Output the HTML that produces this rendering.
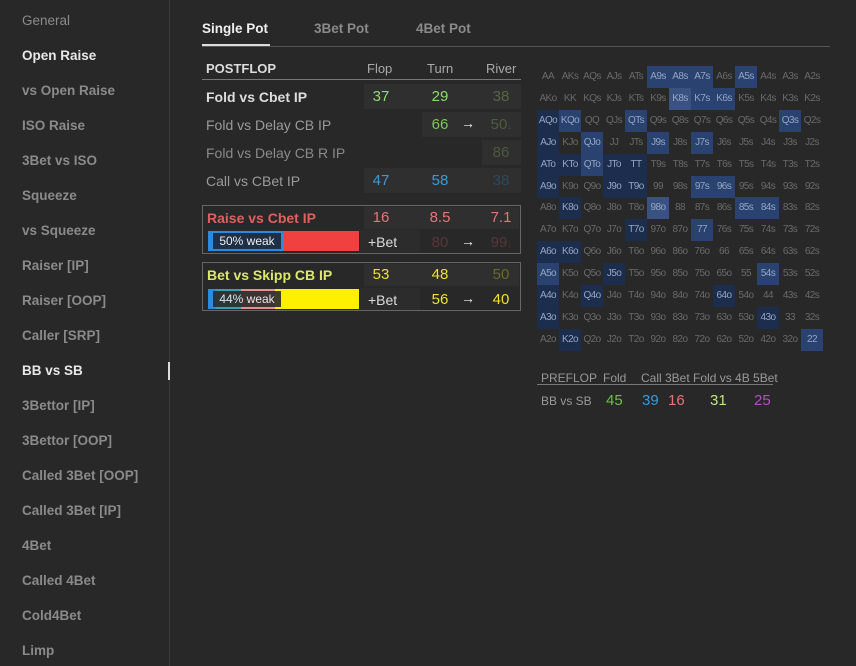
<!DOCTYPE html>
<html><head><meta charset="utf-8"><style>
*{box-sizing:border-box;margin:0;padding:0}
body{width:856px;height:666px;background:#282828;font-family:"Liberation Sans",sans-serif;position:relative;overflow:hidden;color:#ccc}
.a{position:absolute;white-space:nowrap}
.side{position:absolute;left:0;top:0;width:170px;height:666px;border-right:1px solid #3c3c3c}
.si{position:absolute;left:22px;font-size:13.5px;color:#8a8a8a;font-weight:bold}
.cell{position:absolute;background:#2f2f2f}
.num{position:absolute;font-size:15px;text-align:center;width:50px;white-space:nowrap}
.hc{position:absolute;width:22px;height:22px;font-size:10px;color:#6a6a6a;text-align:center;line-height:22px;letter-spacing:-0.6px;overflow:hidden}
</style></head><body>
<div class="side" id="side"></div>
<div class="a" style="left:168px;top:362px;width:2px;height:18px;background:#ddd"></div>

<div class="a" style="left:202px;top:21px;font-size:13.5px;font-weight:bold;color:#eee">Single Pot</div>
<div class="a" style="left:314px;top:21px;font-size:13.5px;color:#8a8a8a;font-weight:bold">3Bet Pot</div>
<div class="a" style="left:416px;top:21px;font-size:13.5px;color:#8a8a8a;font-weight:bold">4Bet Pot</div>
<div class="a" style="left:202px;top:46px;width:628px;height:1px;background:#555"></div>
<div class="a" style="left:202px;top:44px;width:68px;height:2px;background:#ddd"></div>

<div class="a" style="left:206px;top:61px;font-size:13px;font-weight:bold;color:#ddd">POSTFLOP</div>
<div class="a" style="left:367px;top:61px;font-size:13px;color:#aaa">Flop</div>
<div class="a" style="left:427px;top:61px;font-size:13px;color:#aaa">Turn</div>
<div class="a" style="left:486px;top:61px;font-size:13px;color:#aaa">River</div>
<div class="a" style="left:202px;top:79px;width:319px;height:1px;background:#777"></div>

<div class="a" style="left:206px;top:89px;font-size:14px;font-weight:bold;color:#ddd">Fold vs Cbet IP</div>
<div class="cell" style="left:364px;top:84px;width:157px;height:25px"></div>
<div class="num" style="left:356px;top:88px;color:#8fdc6a">37</div>
<div class="num" style="left:415px;top:88px;color:#8fdc6a">29</div>
<div class="num" style="left:476px;top:88px;color:#55683f">38</div>

<div class="a" style="left:206px;top:117px;font-size:14px;color:#9a9a9a">Fold vs Delay CB IP</div>
<div class="cell" style="left:422px;top:112px;width:99px;height:25px"></div>
<div class="num" style="left:415px;top:116px;color:#7bc85a">66</div>
<div class="a" style="left:461px;top:115px;font-size:14px;color:#eee">→</div>
<div class="num" style="left:476px;top:116px;color:#4d5e3e">50<span style="font-size:8px">↓</span></div>

<div class="a" style="left:206px;top:145px;font-size:14px;color:#8a8a8a">Fold vs Delay CB R IP</div>
<div class="cell" style="left:482px;top:140px;width:39px;height:25px"></div>
<div class="num" style="left:476px;top:144px;color:#4a5a3c">86</div>

<div class="a" style="left:206px;top:173px;font-size:14px;color:#9a9a9a">Call vs CBet IP</div>
<div class="cell" style="left:364px;top:168px;width:157px;height:25px"></div>
<div class="num" style="left:356px;top:172px;color:#3a9ad9">47</div>
<div class="num" style="left:415px;top:172px;color:#3a9ad9">58</div>
<div class="num" style="left:476px;top:172px;color:#2a4a60">38</div>

<div class="a" style="left:202px;top:205px;width:319px;height:49px;border:1px solid #666"></div>
<div class="a" style="left:207px;top:210px;font-size:14px;font-weight:bold;color:#e06060">Raise vs Cbet IP</div>
<div class="cell" style="left:364px;top:207px;width:155px;height:22px"></div>
<div class="num" style="left:356px;top:209px;color:#e87575">16</div>
<div class="num" style="left:415px;top:209px;color:#e87575">8.5</div>
<div class="num" style="left:476px;top:209px;color:#e87575">7.1</div>
<div class="a" style="left:208px;top:231px;width:151px;height:20px;background:#f04040"></div>
<div class="a" style="left:208px;top:231px;width:76px;height:20px;background:#2a8be0"></div>
<div class="a" style="left:213px;top:233px;width:68px;height:16px;background:#1e3048;color:#eee;font-size:12px;text-align:center;line-height:16px">50% weak</div>
<div class="cell" style="left:360px;top:230px;width:60px;height:22px;background:#2c2c2c"></div>
<div class="a" style="left:368px;top:234px;font-size:14px;color:#ddd">+Bet</div>
<div class="num" style="left:415px;top:234px;color:#5a3636">80</div>
<div class="a" style="left:461px;top:233px;font-size:14px;color:#eee">→</div>
<div class="num" style="left:476px;top:234px;color:#5a3636">99<span style="font-size:8px">↓</span></div>

<div class="a" style="left:202px;top:262px;width:319px;height:49px;border:1px solid #666"></div>
<div class="a" style="left:207px;top:267px;font-size:14px;font-weight:bold;color:#dde86a">Bet vs Skipp CB IP</div>
<div class="cell" style="left:364px;top:264px;width:155px;height:22px"></div>
<div class="num" style="left:356px;top:266px;color:#f0e030">53</div>
<div class="num" style="left:415px;top:266px;color:#f0e030">48</div>
<div class="num" style="left:476px;top:266px;color:#6a6a2a">50</div>
<div class="a" style="left:208px;top:289px;width:151px;height:20px;background:#fff000"></div>
<div class="a" style="left:208px;top:289px;width:8px;height:20px;background:#2a8be0"></div>
<div class="a" style="left:216px;top:289px;width:25px;height:20px;background:#3aa0b0"></div>
<div class="a" style="left:241px;top:289px;width:34px;height:20px;background:#e89090"></div>
<div class="a" style="left:213px;top:291px;width:68px;height:16px;background:#2a2a2a;opacity:.9;color:#eee;font-size:12px;text-align:center;line-height:16px">44% weak</div>
<div class="cell" style="left:360px;top:288px;width:60px;height:22px;background:#2c2c2c"></div>
<div class="a" style="left:368px;top:292px;font-size:14px;color:#ddd">+Bet</div>
<div class="num" style="left:415px;top:291px;color:#f0e030">56</div>
<div class="a" style="left:461px;top:290px;font-size:14px;color:#eee">→</div>
<div class="num" style="left:476px;top:291px;color:#f0e030">40</div>

<div id="grid"></div>

<div class="a" style="left:541px;top:371px;font-size:12px;color:#999">PREFLOP</div>
<div class="a" style="left:603px;top:371px;font-size:12px;color:#999">Fold</div>
<div class="a" style="left:641px;top:371px;font-size:12px;color:#999">Call 3Bet Fold vs 4B 5Bet</div>
<div class="a" style="left:537px;top:384px;width:236px;height:1px;background:#777"></div>
<div class="a" style="left:541px;top:394px;font-size:12px;color:#999">BB vs SB</div>
<div class="a" style="left:606px;top:392px;font-size:15px;color:#6cc04a">45</div>
<div class="a" style="left:642px;top:392px;font-size:15px;color:#3a9ad9">39</div>
<div class="a" style="left:668px;top:392px;font-size:15px;color:#e87575">16</div>
<div class="a" style="left:710px;top:392px;font-size:15px;color:#bfe87a">31</div>
<div class="a" style="left:754px;top:392px;font-size:15px;color:#b050c0">25</div>

<script>
const sideItems=["General","Open Raise","vs Open Raise","ISO Raise","3Bet vs ISO","Squeeze","vs Squeeze","Raiser [IP]","Raiser [OOP]","Caller [SRP]","BB vs SB","3Bettor [IP]","3Bettor [OOP]","Called 3Bet [OOP]","Called 3Bet [IP]","4Bet","Called 4Bet","Cold4Bet","Limp"];
const side=document.getElementById('side');
sideItems.forEach((t,i)=>{const d=document.createElement('div');d.className='si';d.style.top=(13+i*35)+'px';d.textContent=t;
if(t==="Open Raise"||t==="BB vs SB")d.style.color='#e8e8e8';
if(t==="General")d.style.fontWeight='normal';


side.appendChild(d);});
const ranks="AKQJT98765432";
const hl={A9s:2,A8s:2,A7s:2,A5s:2,K8s:3,K7s:2,K6s:2,AQo:1,KQo:2,QTs:2,Q3s:2,AJo:1,QJo:2,J9s:2,J7s:2,ATo:1,KTo:1,QTo:2,JTo:1,TT:1,A9o:1,J9o:1,T9o:1,"97s":2,"96s":2,K8o:1,"98o":3,"85s":2,"84s":2,T7o:1,"77":2,A6o:1,K6o:1,A5o:2,J5o:1,"54s":2,A4o:1,Q4o:1,"64o":1,A3o:1,"43o":1,K2o:1,"22":2};
const cols=["","#1c2d4e","#2a4270","#3a5282"];
const g=document.getElementById('grid');
for(let r=0;r<13;r++)for(let c=0;c<13;c++){let h=r===c?ranks[r]+ranks[c]:(c>r?ranks[r]+ranks[c]+'s':ranks[c]+ranks[r]+'o');
const d=document.createElement('div');d.className='hc';d.style.left=(537+c*22)+'px';d.style.top=(66+r*21.9)+'px';d.textContent=h;
if(hl[h]){d.style.background=cols[hl[h]];d.style.color='#94a6c2';}


g.appendChild(d);}
</script>
</body></html>
